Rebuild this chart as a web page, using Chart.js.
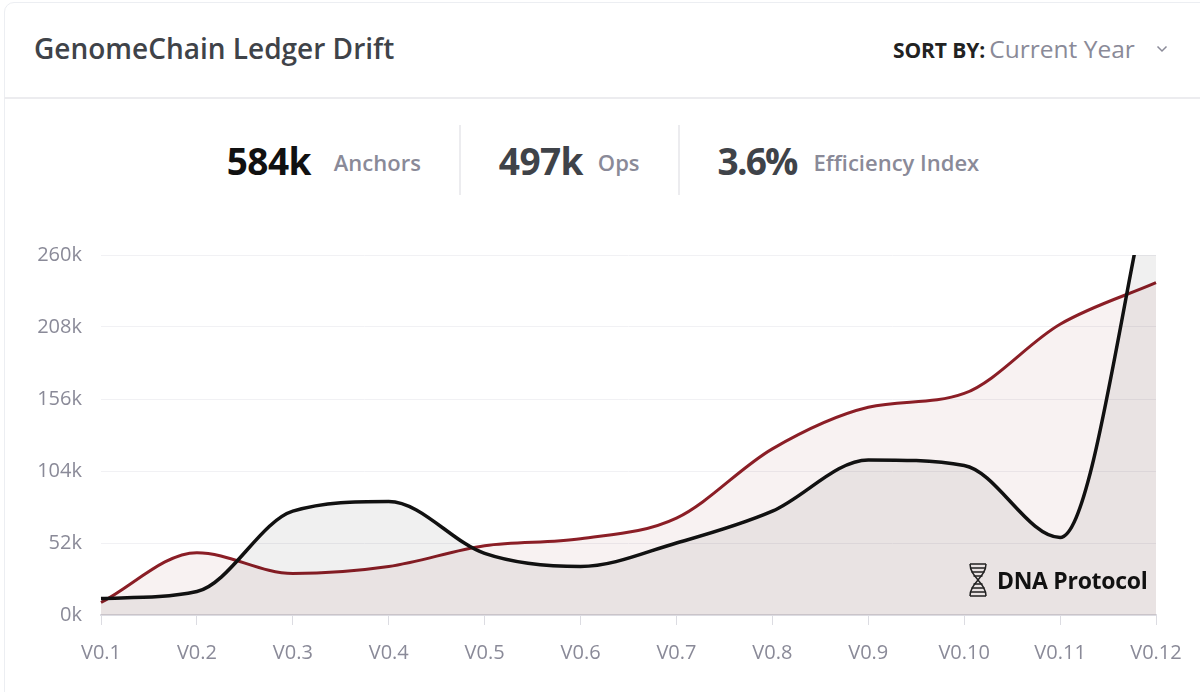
<!DOCTYPE html>
<html>
<head>
<meta charset="utf-8">
<script src="https://cdn.jsdelivr.net/npm/chart.js@4.4.1/dist/chart.umd.min.js"></script>
<style>
  html, body { margin: 0; padding: 0; background: #fff; }
  body { width: 1200px; height: 692px; overflow: hidden; position: relative; font-family: "Open Sans", Lato, sans-serif; }
  #card { position: absolute; left: 4px; top: 2px; width: 1210px; height: 710px; border: 1px solid #eceef2; border-radius: 10px; }
  .title { position: absolute; left: 34px; top: 29px; font-size: 28px; font-weight: 600; color: #3f4349; }
  .sort { position: absolute; left: 893px; top: 32px; white-space: nowrap; }
  .sort b { font-size: 21px; font-weight: 700; color: #222; letter-spacing: -0.1px; }
  .sort span { font-size: 24.5px; color: #8a8a98; }
  .sort svg { position: absolute; left: 263px; top: 13px; }
  .divider { position: absolute; left: 4px; top: 97px; width: 1196px; height: 2px; background: #ececef; }
  .stats { position: absolute; left: 0; top: 125px; width: 1206px; display: flex; justify-content: center; }
  .stat { display: flex; align-items: center; padding: 0 38px; height: 70px; }
  .stat + .stat { border-left: 2px solid #ececef; }
  .stat .num { font-size: 37px; font-weight: 700; color: #3f4349; letter-spacing: -0.6px; }
  .stat .lab { font-size: 22px; font-weight: 600; color: #8a8a98; padding-top: 3px; }
  .stat.first .num { color: #111; }
  .stat.first .lab { margin-left: 23px; }
  .stat.second .lab { margin-left: 15px; }
  .stat.third .num { letter-spacing: -1.8px; }
  .stat.third .lab { margin-left: 17px; }
  #wrap { position: absolute; left: 0; top: 224px; width: 1200px; height: 468px; }
  .wm { position: absolute; left: 968px; top: 339px; display: flex; align-items: center; font-size: 23px; font-weight: 700; color: #111; letter-spacing: -0.3px; }
  .wm svg { margin-right: 9px; }
</style>
</head>
<body>
<div id="card"></div>
<div class="title">GenomeChain Ledger Drift</div>
<div class="sort"><b>SORT BY:</b> <span>Current Year</span>
  <svg width="12" height="8" viewBox="0 0 12 8"><path d="M1.5 1.5 L6 6 L10.5 1.5" fill="none" stroke="#8a8a98" stroke-width="1.5"/></svg>
</div>
<div class="divider"></div>
<div class="stats">
  <div class="stat first"><span class="num">584k</span><span class="lab">Anchors</span></div>
  <div class="stat second"><span class="num">497k</span><span class="lab">Ops</span></div>
  <div class="stat third"><span class="num">3.6%</span><span class="lab">Efficiency Index</span></div>
</div>
<div id="wrap">
  <canvas id="myChart"></canvas>
  <div class="wm">
    <svg width="20" height="34" viewBox="0 0 20 34">
      <g fill="none" stroke="#222" stroke-width="1.5">
        <path d="M2 1 C2 14, 18 20, 18 33"/>
        <path d="M18 1 C18 14, 2 20, 2 33"/>
        <path d="M2 1 H18 M2 33 H18 M2.5 5 H17.5 M3.5 9 H16.5 M5.5 13 H14.5 M5.5 21 H14.5 M3.5 25 H16.5 M2.5 29 H17.5"/>
      </g>
    </svg>
    <span>DNA Protocol</span>
  </div>
</div>
<script>
const labels = ['V0.1', 'V0.2', 'V0.3', 'V0.4', 'V0.5', 'V0.6', 'V0.7', 'V0.8', 'V0.9', 'V0.10', 'V0.11', 'V0.12'];
const anchors = [9000, 45000, 30000, 35000, 50000, 55000, 70000, 120000, 150000, 160000, 210000, 240000];
const ops = [12000, 17000, 75000, 82000, 44500, 35000, 52000, 75000, 112000, 108000, 56000, 335000];
const yTicks = [0, 52000, 104000, 156000, 208000, 260000];

const tickColor = '#8a8a98';

const data = {
    labels: labels,
    datasets: [{
        label: 'Ops',
        data: ops,
        borderColor: '#111111',
        backgroundColor: 'rgba(0, 0, 0, 0.06)',
        borderWidth: 3.5,
        fill: 'origin',
        pointRadius: 0,
        cubicInterpolationMode: 'monotone'
    }, {
        label: 'Anchors',
        data: anchors,
        borderColor: '#8b1e26',
        backgroundColor: 'rgba(139, 30, 38, 0.06)',
        borderWidth: 3,
        fill: 'origin',
        pointRadius: 0,
        cubicInterpolationMode: 'monotone'
    }]
};

const config = {
    type: 'line',
    data,
    options: {
        animation: false,
        responsive: false,
        devicePixelRatio: 1,
        layout: { padding: { left: 0, right: 44, top: 4, bottom: 0 } },
        plugins: { legend: { display: false }, tooltip: { enabled: false } },
        scales: {
            x: {
                grid: { drawOnChartArea: false, drawTicks: true, tickLength: 10, color: '#dcdce2' },
                border: { display: true, color: '#dcdce2', width: 2 },
                ticks: { font: { family: 'Open Sans', size: 20 }, color: tickColor, padding: 16, maxRotation: 0, autoSkip: false },
                afterFit: function (s) { s.height = 77; }
            },
            y: {
                min: 0,
                max: 260000,
                grid: { color: '#f1f1f4', drawTicks: false },
                border: { display: false },
                afterBuildTicks: function (s) { s.ticks = yTicks.map(v => ({ value: v })); },
                ticks: {
                    font: { family: 'Open Sans', size: 20 }, color: tickColor, padding: 19,
                    callback: function (v) { return (v / 1000) + 'k'; }
                },
                afterFit: function (s) { s.width = 101; }
            }
        }
    }
};

const cv = document.getElementById('myChart');
cv.width = 1200;
cv.height = 468;
new Chart(cv, config);
</script>
</body>
</html>
